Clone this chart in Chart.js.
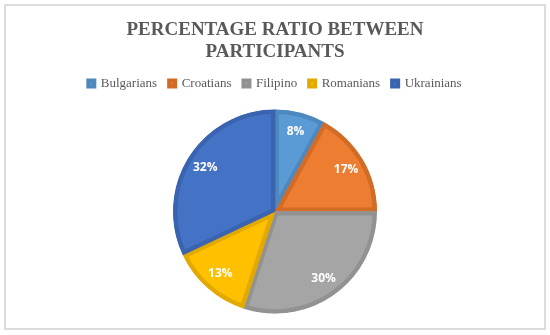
<!DOCTYPE html>
<html>
<head>
<meta charset="utf-8">
<script src="https://cdn.jsdelivr.net/npm/chart.js@4/dist/chart.umd.min.js"></script>
<style>
  html, body { margin: 0; padding: 0; background: #fff; }
  #frame {
    position: absolute; left: 4px; top: 4px;
    width: 538px; height: 322px;
    border: 2px solid #dcdcdc;
  }
  canvas { display: block; }
</style>
</head>
<body>
<div id="frame"><canvas id="myChart" width="538" height="322"></canvas></div>
<script>
// Data
var titleLines = ['PERCENTAGE RATIO BETWEEN', 'PARTICIPANTS'];
var labels = ['Bulgarians', 'Croatians', 'Filipino', 'Romanians', 'Ukrainians'];
var shares = [8, 17, 30, 13, 32];

var fillColors = ['#5B9BD5', '#ED7D31', '#A5A5A5', '#FFC000', '#4472C4'];
var edgeColors = ['#4d88bf', '#d26b26', '#929292', '#e2aa00', '#3a64b0'];

// white percentage labels inside the slices
var sliceLabels = {
  id: 'sliceLabels',
  afterDatasetsDraw: function(chart) {
    var ctx = chart.ctx;
    var meta = chart.getDatasetMeta(0);
    ctx.save();
    ctx.fillStyle = '#ffffff';
    ctx.font = 'bold 12px "Open Sans", sans-serif';
    ctx.textAlign = 'center';
    ctx.textBaseline = 'middle';
    meta.data.forEach(function(arc, i) {
      var mid = (arc.startAngle + arc.endAngle) / 2;
      var r = arc.outerRadius * 0.81;
      ctx.fillText(shares[i] + '%', arc.x + Math.cos(mid) * r, arc.y + Math.sin(mid) * r);
    });
    ctx.restore();
  }
};

var ctx = document.getElementById('myChart').getContext('2d');
var myChart = new Chart(ctx, {
  type: 'pie',
  data: {
    labels: labels,
    datasets: [{
      data: shares,
      backgroundColor: fillColors,
      borderColor: edgeColors,
      borderWidth: 4,
      borderAlign: 'inner'
    }]
  },
  options: {
    responsive: false,
    animation: false,
    radius: 102,
    layout: { padding: { top: 0, bottom: 5 } },
    plugins: {
      title: {
        display: true,
        text: titleLines,
        color: '#595959',
        font: { family: '"Liberation Serif", "Times New Roman", serif', size: 19, weight: 'bold', lineHeight: 1.16 },
        padding: { top: 13, bottom: 2 }
      },
      legend: {
        position: 'top',
        labels: {
          color: '#595959',
          font: { family: '"Liberation Serif", "Times New Roman", serif', size: 13 },
          boxWidth: 6,
          boxHeight: 6,
          padding: 12
        }
      },
      tooltip: { enabled: false }
    }
  },
  plugins: [sliceLabels]
});
</script>
</body>
</html>
